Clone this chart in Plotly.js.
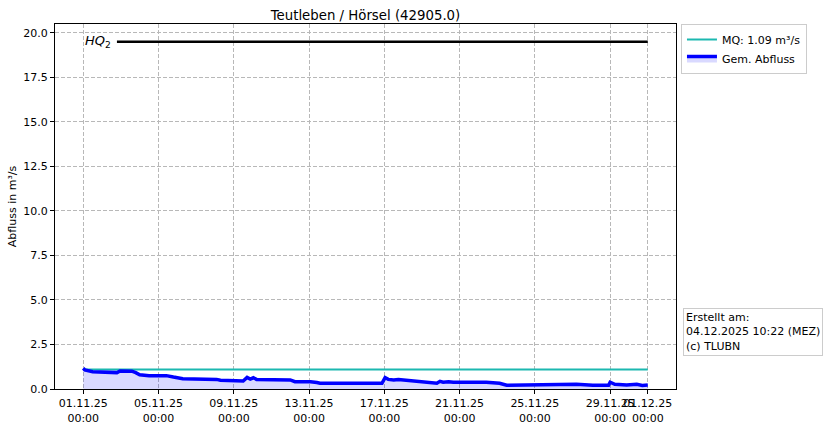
<!DOCTYPE html>
<html><head><meta charset="utf-8">
<script src="https://cdn.plot.ly/plotly-3.0.1.min.js"></script>
<style>html,body{margin:0;padding:0;background:#fff;}#chart{width:830px;height:426px;}</style>
</head><body><div id="chart"></div>
<script>
const titleText = "Teutleben / Hörsel (42905.0)";
const flowTimes = ["2025-11-01 00:00","2025-11-01 02:00","2025-11-01 12:00","2025-11-02 07:00","2025-11-02 19:00","2025-11-02 23:00","2025-11-03 14:00","2025-11-03 19:00","2025-11-04 00:00","2025-11-04 12:00","2025-11-05 10:00","2025-11-05 19:00","2025-11-06 07:00","2025-11-08 02:00","2025-11-08 07:00","2025-11-09 12:00","2025-11-09 17:00","2025-11-09 21:00","2025-11-10 01:00","2025-11-10 05:00","2025-11-12 00:00","2025-11-12 06:00","2025-11-13 02:00","2025-11-13 10:00","2025-11-13 14:00","2025-11-16 21:00","2025-11-17 01:00","2025-11-17 05:00","2025-11-17 12:00","2025-11-17 18:00","2025-11-18 00:00","2025-11-18 13:00","2025-11-19 06:00","2025-11-19 19:00","2025-11-19 23:00","2025-11-20 03:00","2025-11-20 10:00","2025-11-20 16:00","2025-11-22 10:00","2025-11-23 03:00","2025-11-23 12:00","2025-11-26 07:00","2025-11-27 05:00","2025-11-28 02:00","2025-11-28 22:00","2025-11-29 00:00","2025-11-29 06:00","2025-11-29 21:00","2025-11-30 10:00","2025-11-30 17:00","2025-12-01 00:00"];
const flowValues = [1.16,1.07,0.97,0.92,0.92,1.01,1.00,0.92,0.80,0.75,0.75,0.67,0.58,0.54,0.49,0.45,0.65,0.56,0.63,0.54,0.51,0.41,0.41,0.36,0.32,0.32,0.64,0.54,0.51,0.54,0.51,0.43,0.38,0.32,0.43,0.38,0.41,0.38,0.38,0.32,0.21,0.22,0.26,0.21,0.21,0.38,0.26,0.22,0.26,0.20,0.22];
const mqTimes = ["2025-11-01 00:00","2025-12-01 00:00"];
const mqValues = [1.09,1.09];
const hqTimes = ["2025-11-02 19:00","2025-12-01 00:00"];
const hqValues = [19.5,19.5];
const tickVals = ["2025-11-01","2025-11-05","2025-11-09","2025-11-13","2025-11-17","2025-11-21","2025-11-25","2025-11-29","2025-12-01"];
const tickText = ["01.11.25<br>00:00","05.11.25<br>00:00","09.11.25<br>00:00","13.11.25<br>00:00","17.11.25<br>00:00","21.11.25<br>00:00","25.11.25<br>00:00","29.11.25<br>00:00","01.12.25<br>00:00"];
const yTicks = [0,2.5,5,7.5,10,12.5,15,17.5,20];
const yTickText = ["0.0","2.5","5.0","7.5","10.0","12.5","15.0","17.5","20.0"];
const noteText = "Erstellt am:<br>04.12.2025 10:22 (MEZ)<br>(c) TLUBN";

const font = {family:"DejaVu Sans, sans-serif", color:"#000"};
const traces = [
  {x:hqTimes, y:hqValues, mode:"lines", line:{color:"#000", width:2.5}, showlegend:false, hoverinfo:"skip"},
  {x:mqTimes, y:mqValues, mode:"lines", name:"MQ: 1.09 m³/s", line:{color:"#1cb8b0", width:2}},
  {x:flowTimes, y:flowValues, mode:"lines", name:"Gem. Abfluss", line:{color:"#0000ff", width:3.5}, fill:"tozeroy", fillcolor:"rgba(0,0,255,0.15)"}
];
const layout = {
  width:830, height:426,
  margin:{l:55, r:154, t:24, b:37},
  paper_bgcolor:"#fff", plot_bgcolor:"#fff",
  font:Object.assign({size:11}, font),
  title:{text:titleText, font:Object.assign({size:13.3}, font), x:0.5+(55-154)/2/830, xanchor:"center", y:0.974, yanchor:"top"},
  xaxis:{type:"date", range:["2025-10-30 12:00","2025-12-02 12:00"], tickvals:tickVals, ticktext:tickText, tickangle:0,
    showgrid:true, gridcolor:"#b8b8b8", griddash:"4px,2px", gridwidth:1,
    showline:true, mirror:true, linecolor:"#000", linewidth:1, ticks:"outside", ticklen:4, tickcolor:"#000",
    zeroline:false, tickfont:Object.assign({size:11}, font)},
  yaxis:{range:[0,20.5], tickvals:yTicks, ticktext:yTickText,
    showgrid:true, gridcolor:"#b8b8b8", griddash:"4px,2px", gridwidth:1,
    showline:true, mirror:true, linecolor:"#000", linewidth:1, ticks:"outside", ticklen:4, tickcolor:"#000",
    zeroline:false, tickfont:Object.assign({size:11}, font),
    title:{text:"Abfluss in m³/s", font:Object.assign({size:11}, font), standoff:4}},
  legend:{x:1.008, y:1.0, xanchor:"left", yanchor:"top", bgcolor:"#fff", bordercolor:"#cccccc", borderwidth:1,
    font:Object.assign({size:11}, font), tracegroupgap:0, itemwidth:30},
  annotations:[
    {xref:"paper", yref:"paper", x:1.011, y:0.09, xanchor:"left", yanchor:"bottom", align:"left", showarrow:false,
     text:noteText, font:Object.assign({size:11}, font), bordercolor:"#cccccc", borderwidth:1, borderpad:2, bgcolor:"#fff"},
    {xref:"x", yref:"y", x:"2025-11-01 00:00", y:19.5, xanchor:"left", yanchor:"middle", showarrow:false,
     text:"<i>HQ</i><sub>2</sub>", font:Object.assign({size:13}, font)}
  ]
};
Plotly.newPlot("chart", traces, layout, {displayModeBar:false, staticPlot:true});
</script></body></html>
